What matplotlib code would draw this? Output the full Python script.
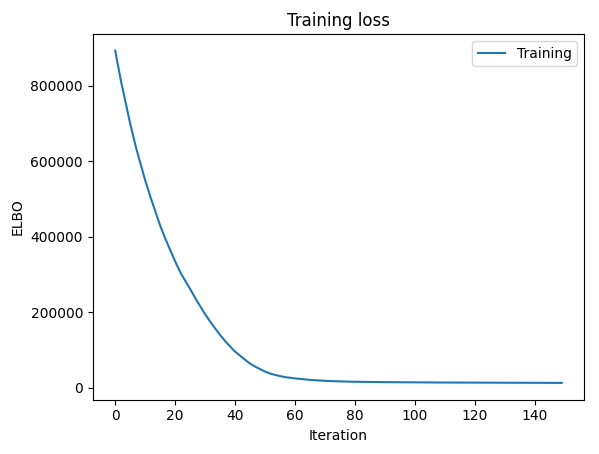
import matplotlib
matplotlib.use("Agg")
import matplotlib.pyplot as plt

iterations = [0, 2, 5, 7, 10, 12, 15, 17, 20, 22, 25, 27, 30, 32, 35, 37, 40, 42, 45, 47, 50,
              52, 55, 57, 60, 65, 70, 75, 80, 90, 100, 110, 120, 130, 140, 149]
elbo = [893000, 810000, 700000, 635000, 550000, 500000, 430000, 390000, 335000, 302000,
        262000, 234000, 195000, 172000, 140000, 121000, 96000, 83000, 64000, 55000,
        43000, 37000, 31000, 28000, 25000, 21000, 18500, 17000, 16000, 15000, 14500,
        14000, 13800, 13500, 13300, 13000]

fig, ax = plt.subplots(figsize=(5.99, 4.54), dpi=100)
fig.subplots_adjust(left=0.155, right=0.975, top=0.925, bottom=0.12)
ax.plot(iterations, elbo, label="Training")
ax.set_title("Training loss")
ax.set_xlabel("Iteration")
ax.set_ylabel("ELBO")
ax.legend(loc="upper right")
fig.savefig("out.png", dpi=100)
